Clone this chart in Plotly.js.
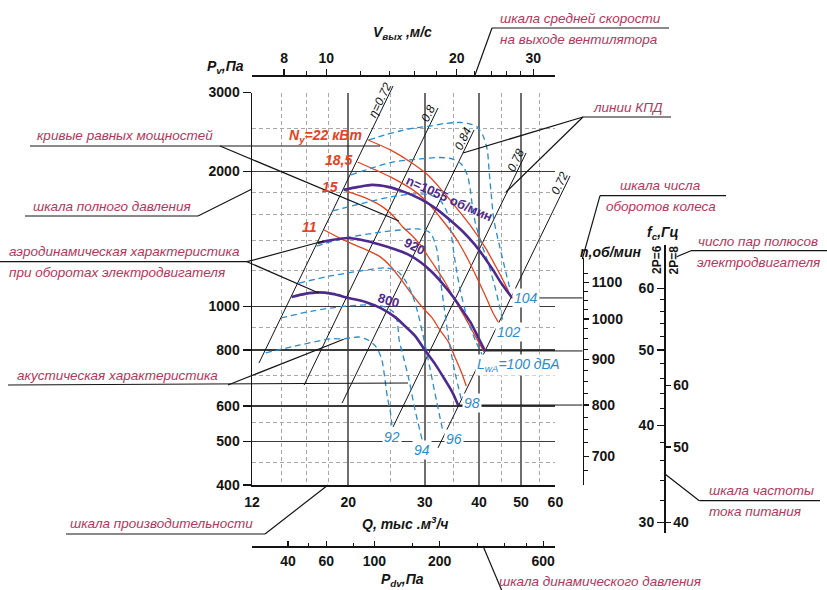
<!DOCTYPE html>
<html lang="ru">
<head>
<meta charset="utf-8">
<title>Аэродинамическая характеристика вентилятора</title>
<script src="https://cdn.plot.ly/plotly-3.0.1.min.js"></script>
<style>
  html, body { margin: 0; padding: 0; background: #fff; }
  #chart { width: 827px; height: 590px; }
</style>
</head>
<body>
<div id="chart"></div>
<script>
// ---------- scales ----------
const qTicks = [12, 20, 30, 40, 50, 60];
const qMinor = [14, 16, 18, 25, 35, 45, 55];
const pTicks = [400, 500, 600, 800, 1000, 2000, 3000];
const pMinor = [450, 550, 700, 900, 1200, 1400, 1600, 1800, 2500];
const vTicks = [8, 10, 20, 30];
const vMinor = [9, 12, 14, 16, 18, 22, 24, 26, 28];
const pdvTicks = [40, 60, 100, 200, 600];
const pdvMinor = [50, 80, 150, 300, 400, 500];
const nTicks = [700, 800, 900, 1000, 1100];
const nMinor = [675, 725, 750, 775, 825, 850, 875, 925, 950, 975, 1025, 1050, 1075, 1125];
const f6Ticks = [30, 40, 50, 60];
const f6Minor = [32, 34, 36, 38, 42, 44, 46, 48, 52, 54, 56, 58];
const f8Ticks = [40, 50, 60];

// ---------- aerodynamic characteristics (Q, тыс. м3/ч ; Pv, Па) ----------
const speeds = [1055, 920, 800];
const q1055 = [19.5, 21.1, 22.7, 24.7, 26.9, 29.3, 31.9, 34.3, 36.8, 39.0, 41.1, 43.1, 45.0, 47.7];
const p1055 = [1820, 1848, 1867, 1848, 1801, 1737, 1651, 1559, 1466, 1379, 1290, 1206, 1128, 1045];
const q920 = [17.0, 18.3, 20.0, 21.5, 23.4, 25.5, 27.3, 29.3, 31.0, 32.9, 34.9, 36.6, 38.2, 39.8, 41.3];
const p920 = [1386, 1407, 1422, 1407, 1379, 1344, 1310, 1257, 1200, 1128, 1050, 982, 924, 855, 796];
const q800 = [14.8, 15.9, 17.0, 18.4, 20.0, 21.9, 23.7, 25.6, 27.0, 28.5, 30.0, 31.7, 33.2, 34.7, 35.8];
const p800 = [1050, 1067, 1075, 1067, 1045, 1024, 993, 948, 905, 860, 800, 744, 693, 645, 603];

// ---------- equal power curves, кВт ----------
const powerLabels = ['N<sub>у</sub>=22 кВт', '18,5', '15', '11'];
const q22 = [22.2, 25.0, 27.8, 30.5, 33.1, 35.8, 38.6, 41.3, 43.8, 45.9, 47.4];
const p22 = [2351, 2234, 2100, 1965, 1801, 1642, 1496, 1357, 1225, 1123, 1050];
const q18 = [21.0, 23.1, 25.0, 27.0, 28.8, 30.5, 32.5, 34.3, 35.6, 37.8, 39.8, 41.8, 43.1, 44.3];
const p18 = [2100, 2016, 1945, 1867, 1792, 1702, 1583, 1481, 1407, 1270, 1146, 1034, 967, 924];
const q15 = [19.7, 21.9, 24.0, 25.4, 26.7, 28.1, 29.3, 30.5, 31.7, 33.4, 35.2, 37.2, 39.2, 41.1];
const p15 = [1810, 1746, 1668, 1592, 1504, 1436, 1372, 1296, 1225, 1134, 1034, 943, 860, 792];
const q11 = [17.6, 19.5, 21.5, 23.7, 25.1, 26.3, 28.1, 29.7, 31.2, 32.5, 34.0, 35.2, 36.4, 37.4];
const p11 = [1481, 1407, 1351, 1290, 1225, 1158, 1061, 993, 943, 887, 834, 772, 715, 665];

// ---------- acoustic characteristic, LwA дБА ----------
const soundLabels = ['104', '102', 'L<sub>wA</sub>=100 дБА', '98', '96', '94', '92'];
const lw104Q = [22.3, 24.3, 26.3, 28.5, 30.9, 33.4, 36.2, 38.2, 39.6, 40.9, 41.8, 42.2, 42.7, 43.3, 44.5, 45.7, 47.2];
const lw104P = [2351, 2412, 2462, 2501, 2526, 2559, 2572, 2552, 2513, 2400, 2234, 2016, 1773, 1559, 1379, 1238, 1089];
const lw102Q = [20.3, 22.7, 25.4, 29.3, 32.5, 34.7, 36.4, 37.6, 38.2, 38.6, 39.2, 40.4, 42.0, 43.6, 44.7, 45.5];
const lw102P = [1965, 2037, 2100, 2133, 2149, 2133, 2079, 1965, 1820, 1685, 1543, 1393, 1251, 1100, 993, 919];
const lw100Q = [18.4, 21.3, 25.0, 28.5, 30.9, 32.5, 33.8, 34.5, 35.2, 36.2, 37.6, 39.2, 40.9];
const lw100P = [1634, 1693, 1755, 1783, 1773, 1728, 1617, 1459, 1270, 1089, 943, 842, 772];
const lw98Q = [16.9, 19.7, 23.1, 26.3, 29.0, 30.9, 32.0, 32.5, 33.2, 34.1, 35.2, 36.6];
const lw98P = [1364, 1422, 1459, 1481, 1489, 1459, 1337, 1176, 1008, 842, 715, 609];
const lw96Q = [15.4, 18.2, 21.3, 24.3, 25.9, 27.0, 28.1, 29.0, 29.9, 30.9, 31.9, 33.1];
const lw96P = [1128, 1170, 1200, 1219, 1200, 1146, 1061, 958, 842, 722, 619, 522];
const lw94Q = [14.0, 16.5, 19.4, 22.2, 24.3, 25.4, 25.9, 26.2, 26.9, 27.6, 28.5, 29.6];
const lw94P = [943, 977, 1000, 1008, 998, 972, 933, 842, 760, 686, 588, 504];
const lw92Q = [12.9, 15.5, 18.2, 19.5, 21.1, 22.2, 23.2, 23.9, 24.3, 24.6, 25.0, 25.2];
const lw92P = [788, 821, 847, 847, 855, 842, 812, 760, 686, 629, 582, 544];

// ---------- efficiency lines (lower and upper ends) ----------
const effLabels = ['η=0.72', '0.8', '0.84', '0.78', '0.72'];
const effQ0 = [12.45, 15.82, 19.35, 25.36, 32.19];
const effP0 = [748, 668, 609, 539, 484];
const effQ1 = [25.36, 32.19, 38.97, 51.36, 64.85];
const effP1 = [3102, 2771, 2475, 2200, 1955];

// ---------- styling ----------
const FONT = 'Liberation Sans, Arial, Helvetica, sans-serif';
const INK = '#141414';
const PINK = '#b3365b';
const RED = '#e8411d';
const BLUE = '#2a8bd0';
const VIOLET = '#4e2a8e';

const W = 827, H = 590;
const M = { l: 252, r: 127, t: 75, b: 44 };
const PW = W - M.l - M.r, PH = H - M.t - M.b;
const px = x => (x - M.l) / PW;          // pixel -> paper fraction
const py = y => (H - M.b - y) / PH;
const lg = Math.log10;

const xRange = [lg(12), lg(60)];
const yRange = [lg(400), lg(3000)];
const xDom = [px(252), px(555.4)];
const yDom = [py(485), py(92.5)];

// same log scales stretched over the whole paper, used for the curve layer
function stretch(r, d) {
  const s = (r[1] - r[0]) / (d[1] - d[0]);
  return [r[0] - d[0] * s, r[0] + (1 - d[0]) * s];
}
const xFull = stretch(xRange, xDom);
const yFull = stretch(yRange, yDom);

// outlet velocity V = Q / (3.6·A), dynamic pressure Pdv = ρV²/2
const outletArea = 0.494, rho = 1.2;
const vRange = xRange.map(v => v - lg(3.6 * outletArea));
const pdvRange = vRange.map(v => 2 * v + lg(rho / 2));

// impeller speed and supply frequency scales
const nAxisX = 582.5, fAxisX = 664;
const nDom = [py(485), py(258)];
const nRange = [3 - (485 - 319) / 886, 3 + (319 - 258) / 886];
const fDom = [py(533), py(245)];
const f6Range = [lg(60) - (533 - 288.3) / 778, lg(60) + (288.3 - 245) / 778];
const f8Range = f6Range.map(v => v + lg(8 / 6));

const tickFont = (size) => ({ family: FONT, size: size || 14, color: INK, weight: 'bold' });
const DASH_GRID = '4px,3px';

function scaleAxis(extra) {
  return Object.assign({
    type: 'log', tickmode: 'array', showgrid: false, zeroline: false,
    showline: true, linecolor: INK, linewidth: 1.5,
    tickcolor: INK, tickwidth: 1.3, tickfont: tickFont(), fixedrange: true
  }, extra);
}

const layout = {
  width: W, height: H,
  margin: { l: M.l, r: M.r, t: M.t, b: M.b, pad: 0 },
  paper_bgcolor: '#ffffff', plot_bgcolor: 'rgba(0,0,0,0)',
  showlegend: false, hovermode: false,
  font: { family: FONT, color: INK, size: 14 },
  xaxis: scaleAxis({
    range: xRange, domain: xDom, anchor: 'y',
    tickvals: qTicks, ticktext: qTicks.map(String), ticks: '', ticklabelstandoff: 4,
    showgrid: true, gridcolor: '#6e6e6e', gridwidth: 2,
    minor: { tickmode: 'array', tickvals: qMinor, ticks: '', showgrid: true,
             gridcolor: '#a8a8a8', gridwidth: 1, griddash: DASH_GRID }
  }),
  yaxis: scaleAxis({
    range: yRange, domain: yDom, anchor: 'x',
    tickvals: pTicks, ticktext: pTicks.map(String), ticks: 'outside', ticklen: 8,
    showgrid: true, gridcolor: '#3a3a3a', gridwidth: 1.3,
    minor: { tickmode: 'array', tickvals: pMinor, ticks: '', showgrid: true,
             gridcolor: '#a8a8a8', gridwidth: 1, griddash: DASH_GRID }
  }),
  xaxis2: scaleAxis({
    range: vRange, overlaying: 'x', anchor: 'free', position: 1, side: 'top',
    tickvals: vTicks, ticktext: vTicks.map(String), ticks: 'outside', ticklen: 6,
    minor: { tickmode: 'array', tickvals: vMinor, ticks: 'outside', ticklen: 4,
             tickwidth: 1, tickcolor: INK, showgrid: false }
  }),
  xaxis3: scaleAxis({
    range: pdvRange, overlaying: 'x', anchor: 'free', position: 0, side: 'bottom',
    tickvals: pdvTicks, ticktext: pdvTicks.map(String), ticks: 'inside', ticklen: 5,
    ticklabelstandoff: 2,
    minor: { tickmode: 'array', tickvals: pdvMinor, ticks: 'inside', ticklen: 3,
             tickwidth: 1, tickcolor: INK, showgrid: false }
  }),
  yaxis2: scaleAxis({
    range: nRange, domain: nDom, anchor: 'free', position: px(nAxisX), side: 'right',
    tickvals: nTicks, ticktext: nTicks.map(String), ticks: 'outside', ticklen: 5,
    minor: { tickmode: 'array', tickvals: nMinor, ticks: 'outside', ticklen: 4,
             tickwidth: 1, tickcolor: INK, showgrid: false }
  }),
  yaxis3: scaleAxis({
    range: f6Range, domain: fDom, anchor: 'free', position: px(fAxisX), side: 'left',
    tickvals: f6Ticks, ticktext: f6Ticks.map(String), ticks: 'outside', ticklen: 7,
    minor: { tickmode: 'array', tickvals: f6Minor, ticks: 'outside', ticklen: 4,
             tickwidth: 1, tickcolor: INK, showgrid: false }
  }),
  yaxis4: scaleAxis({
    range: f8Range, domain: fDom, anchor: 'free', position: px(fAxisX), side: 'right',
    tickvals: f8Ticks, ticktext: f8Ticks.map(String), ticks: 'outside', ticklen: 5
  }),
  xaxis4: { type: 'log', range: xFull, domain: [0, 1], anchor: 'y5', visible: false, fixedrange: true },
  yaxis5: { type: 'log', range: yFull, domain: [0, 1], anchor: 'x4', visible: false, fixedrange: true },
  shapes: [],
  annotations: []
};

// ---------- traces ----------
const traces = [];
// one empty trace per axis pair so every scale gets drawn
[['x', 'y'], ['x2', 'y'], ['x3', 'y'], ['x4', 'y2'], ['x4', 'y3'], ['x4', 'y4']].forEach(([xa, ya]) => {
  traces.push({ type: 'scatter', mode: 'lines', x: [null], y: [null], xaxis: xa, yaxis: ya,
                hoverinfo: 'skip', showlegend: false });
});

function curve(x, y, line) {
  traces.push({ type: 'scatter', mode: 'lines', x: x, y: y, xaxis: 'x4', yaxis: 'y5',
                line: Object.assign({ shape: 'spline', smoothing: 0.8 }, line),
                hoverinfo: 'skip', showlegend: false });
}

// efficiency lines
effLabels.forEach((_, i) => curve([effQ0[i], effQ1[i]], [effP0[i], effP1[i]],
  { color: INK, width: 1, shape: 'linear' }));

// leaders from the end of each characteristic to the speed scale
const qAtNAxis = Math.pow(10, xFull[0] + px(nAxisX) * (xFull[1] - xFull[0]));
[[q1055, p1055], [q920, p920], [q800, p800]].forEach(([q, p]) => {
  curve([q[q.length - 1], qAtNAxis], [p[p.length - 1], p[p.length - 1]],
        { color: INK, width: 1, shape: 'linear' });
});

// equal power curves
[[q22, p22], [q18, p18], [q15, p15], [q11, p11]].forEach(([q, p]) =>
  curve(q, p, { color: RED, width: 1.3 }));

// acoustic characteristic
[[lw104Q, lw104P], [lw102Q, lw102P], [lw100Q, lw100P], [lw98Q, lw98P],
 [lw96Q, lw96P], [lw94Q, lw94P], [lw92Q, lw92P]].forEach(([q, p]) =>
  curve(q, p, { color: BLUE, width: 1.3, dash: '6px,4px' }));

// fan characteristics
[[q1055, p1055], [q920, p920], [q800, p800]].forEach(([q, p]) =>
  curve(q, p, { color: VIOLET, width: 2.6 }));

// ---------- labels ----------
function note(text, x, y, opts) {
  layout.annotations.push(Object.assign({
    text: text, xref: 'paper', yref: 'paper', x: px(x), y: py(y),
    xanchor: 'center', yanchor: 'middle', showarrow: false,
    font: { family: FONT, size: 14, color: INK }
  }, opts || {}));
}
const pinkFont = { family: FONT, size: 13.5, color: PINK, style: 'italic' };
const titleFont = { family: FONT, size: 14, color: INK, weight: 'bold', style: 'italic' };

// efficiency labels written along the top of each line
const angle = 64.2 * Math.PI / 180;
const effAlong = [18, 9, 12, 11, 11];
effLabels.forEach((t, i) => {
  const d = effAlong[i], p = 6;
  layout.annotations.push({
    text: t, xref: 'x4', yref: 'y5', x: lg(effQ1[i]), y: lg(effP1[i]),
    xshift: -Math.cos(angle) * d - Math.sin(angle) * p,
    yshift: -Math.sin(angle) * d + Math.cos(angle) * p,
    textangle: -64.2, showarrow: false, xanchor: 'center', yanchor: 'middle',
    font: { family: FONT, size: 12, color: INK, style: 'italic' }
  });
});

// power labels
const redFont = { family: FONT, size: 14, color: RED, weight: 'bold', style: 'italic' };
[[364, 136], [354, 160], [340, 187], [319, 227]].forEach(([x, y], i) =>
  note(powerLabels[i], x, y, { xanchor: 'right', font: redFont }));

// speed labels along the characteristics
const violetFont = { family: FONT, size: 13, color: VIOLET, weight: 'bold' };
note('n=' + speeds[0] + ' об/мин', 449, 198, { textangle: 24, font: violetFont });
note(String(speeds[1]), 415, 246, { textangle: 27, font: violetFont });
note(String(speeds[2]), 389, 300, { textangle: 17, font: violetFont });

// sound level labels
const blueFont = { family: FONT, size: 14, color: BLUE, style: 'italic' };
[[526, 298], [509, 332], [518, 365], [472, 403], [454, 439], [422, 450], [392, 437]].forEach(([x, y], i) =>
  note(soundLabels[i], x, y, { font: blueFont, bgcolor: '#ffffff', borderpad: 1 }));

// scale titles
note('P<sub>v</sub>,Па', 225, 67, { font: titleFont });
note('V<sub>вых</sub> ,м/с', 402, 33, { font: titleFont });
note('Q, тыс .м<sup>3</sup>/ч', 405, 523, { font: titleFont });
note('P<sub>dv</sub>,Па', 402, 580, { font: titleFont });
note('n,об/мин', 610, 252, { font: titleFont });
note('f<sub>c</sub>,Гц', 663, 233, { font: titleFont });
note('2P=6', 657, 260, { textangle: -90, font: Object.assign({}, titleFont, { size: 12, style: 'normal' }) });
note('2P=8', 673.5, 260, { textangle: -90, font: Object.assign({}, titleFont, { size: 12, style: 'normal' }) });

// explanatory captions
[
  ['шкала средней скорости', 498, 18, 'left'],
  ['на выходе вентилятора', 498, 39, 'left'],
  ['линии КПД', 591, 107, 'left'],
  ['кривые равных мощностей', 35, 135, 'left'],
  ['шкала полного давления', 31, 206, 'left'],
  ['аэродинамическая характеристика', 7, 251, 'left'],
  ['при оборотах электродвигателя', 7, 272, 'left'],
  ['акустическая характеристика', 15, 375, 'left'],
  ['шкала производительности', 255, 523, 'right'],
  ['шкала динамического давления', 497, 581, 'left'],
  ['шкала числа', 660, 186, 'center'],
  ['оборотов колеса', 661, 206, 'center'],
  ['число пар полюсов', 758, 241, 'center'],
  ['электродвигателя', 758, 262, 'center'],
  ['шкала частоты', 707, 490, 'left'],
  ['тока питания', 707, 511, 'left']
].forEach(([t, x, y, a]) => note(t, x, y, { xanchor: a, font: pinkFont }));

// caption leader lines
function seg(x0, y0, x1, y1) {
  layout.shapes.push({ type: 'line', xref: 'paper', yref: 'paper',
    x0: px(x0), y0: py(y0), x1: px(x1), y1: py(y1),
    line: { color: INK, width: 1.2 } });
}
seg(492, 28, 669, 28); seg(492, 28, 475, 75);
seg(583, 117, 671, 117); seg(583, 117, 463, 153); seg(583, 117, 506, 192);
seg(30, 146, 380, 146); seg(220, 146, 399, 221);
seg(25, 216, 198, 216); seg(198, 216, 252, 189);
seg(0, 261.7, 247, 261.7); seg(247, 261.7, 323.7, 241); seg(247, 261.7, 318.7, 293);
seg(8, 385, 408, 383); seg(228, 385, 343.7, 339.3);
seg(66, 534, 265, 534); seg(265, 534, 328, 485);
seg(483, 546, 502, 591);
seg(600, 195.7, 726, 195.7); seg(600, 195.7, 582.3, 259);
seg(691, 250.7, 827, 250.7); seg(691, 250.7, 676.7, 256.7);
seg(664, 473.3, 699.3, 500.7); seg(699.3, 500.7, 820, 500.7);

Plotly.newPlot('chart', traces, layout, { staticPlot: true, displayModeBar: false });
</script>
</body>
</html>
